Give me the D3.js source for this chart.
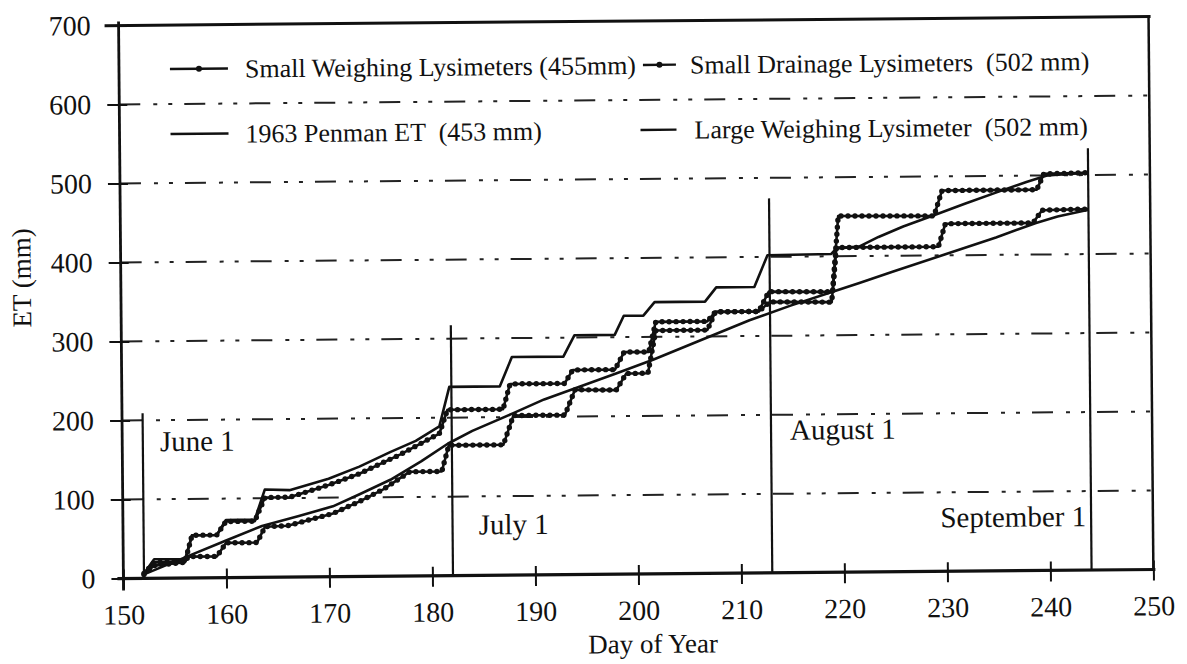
<!DOCTYPE html>
<html>
<head>
<meta charset="utf-8">
<script src="https://cdn.jsdelivr.net/npm/d3@7"></script>
<style>
  body { margin: 0; background: #fff; }
  #chart { width: 1187px; height: 664px; }
  svg { font-family: "Liberation Serif", "Times New Roman", serif; }
</style>
</head>
<body>
<div id="chart"></div>
<script>
//data
const xTicks = [150, 160, 170, 180, 190, 200, 210, 220, 230, 240, 250];
const yTicks = [0, 100, 200, 300, 400, 500, 600, 700];
const gridValues = [100, 200, 300, 400, 500, 600];

const seriesNames = [
  "Small Weighing Lysimeters (455mm)",
  "Small Drainage Lysimeters  (502 mm)",
  "1963 Penman ET  (453 mm)",
  "Large Weighing Lysimeter  (502 mm)"
];

// [day of year, cumulative ET mm]
const smallWeighing = [
  [152, 5], [153, 16], [156, 20], [156.3, 27], [159.1, 27], [160, 44], [163, 44],
  [163.8, 64], [166, 65], [170.4, 80], [173, 95], [175.3, 110], [177.9, 132], [181, 132],
  [181.7, 165], [187, 165], [188, 202], [193, 202], [194, 234], [198, 233], [199, 254],
  [201.1, 254], [201.9, 308], [206.9, 308], [207.7, 331], [211.9, 331], [213, 343],
  [219, 342], [219.5, 411], [229.4, 411], [230.1, 440], [238.6, 440], [239.5, 456], [244, 457]
];

const smallDrainage = [
  [152, 6], [153, 20], [156, 21], [156.7, 54], [159.1, 54], [160, 71], [162.8, 71],
  [163.8, 101], [166.2, 101], [170, 116], [173, 130], [177, 154], [180.8, 180],
  [181.6, 210], [187, 210], [187.7, 242], [193, 242], [193.8, 259], [197.9, 259],
  [198.8, 281], [201.2, 281], [201.9, 319], [206.9, 319], [207.7, 331], [211.9, 331],
  [212.9, 356], [219.1, 355], [219.7, 451], [229, 450], [229.8, 482], [239, 482],
  [239.7, 502], [244, 503]
];

const penman = [
  [152, 5], [156, 26], [160, 47], [163.5, 65], [167, 77], [170.4, 89], [173, 104],
  [176, 122], [179, 145], [181.6, 167], [184, 183], [188, 205], [191, 222], [194.5, 238],
  [198, 254], [201.6, 271], [206, 294], [211, 320], [215, 338], [218.8, 354],
  [221.7, 366], [225, 380], [230, 401], [235, 422], [238.9, 440], [241, 448], [244, 456]
];

const largeWeighing = [
  [152, 6], [153, 24], [156, 24], [156.7, 54], [159.1, 54], [160, 73], [162.8, 73],
  [163.8, 111], [166.2, 110], [170, 124], [173, 139], [176, 157], [178.5, 171],
  [180.8, 189], [181.8, 239], [186.7, 239], [187.9, 276], [192.9, 276], [194, 303],
  [197.9, 303], [198.8, 327], [200.7, 327], [201.8, 344], [206.7, 344], [207.8, 362],
  [211.5, 362], [212.8, 402], [219, 403], [219.5, 410], [221.7, 412], [223.6, 424],
  [226, 437], [228.8, 450], [232, 465], [235.3, 480], [238, 492], [240, 500], [244, 503]
];

const monthNames = ["June 1", "July 1", "August 1", "September 1"];
const monthDays = [152, 182, 213, 244];
const monthTops = [209, 317, 474, 534];

drawChart("#chart");

function drawChart(containerSelector) {
  //size
  const width = 1187, height = 664;
  const margin = { top: 21, right: 36, bottom: 90, left: 121 };
  const innerWidth = width - margin.left - margin.right;
  const innerHeight = height - margin.top - margin.bottom;
  const ink = "#111";

  //scale
  const xScale = d3.scaleLinear().domain([150, 250]).range([0, innerWidth]);
  const yScale = d3.scaleLinear().domain([0, 700]).range([innerHeight, 0]);

  const series = [
    { name: seriesNames[0], values: smallWeighing, dotted: true },
    { name: seriesNames[1], values: smallDrainage, dotted: true },
    { name: seriesNames[2], values: penman, dotted: false },
    { name: seriesNames[3], values: largeWeighing, dotted: false }
  ];

  //create element
  const svg = d3.select(containerSelector).append("svg")
    .attr("width", width)
    .attr("height", height);
  svg.append("rect").attr("width", width).attr("height", height).attr("fill", "#fff");

  // the scanned page sits slightly rotated
  const page = svg.append("g").attr("transform", "rotate(-0.5, 637, 300)");
  const g = page.append("g").attr("transform", `translate(${margin.left},${margin.top})`);

  //grid
  g.append("g").selectAll("line")
    .data(gridValues)
    .join("line")
    .attr("x1", 0)
    .attr("x2", innerWidth)
    .attr("y1", (d) => yScale(d))
    .attr("y2", (d) => yScale(d))
    .attr("stroke", "#222")
    .attr("stroke-width", 2)
    .attr("stroke-dasharray", "21 13 4 11 4 12");

  //frame
  g.append("line")
    .attr("x1", -14).attr("x2", innerWidth + 2)
    .attr("y1", 0).attr("y2", 0)
    .attr("stroke", ink).attr("stroke-width", 3);
  g.append("line")
    .attr("x1", innerWidth).attr("x2", innerWidth)
    .attr("y1", 0).attr("y2", innerHeight)
    .attr("stroke", ink).attr("stroke-width", 2.5);

  //month markers
  const months = monthNames.map((name, i) => ({ name, day: monthDays[i], top: monthTops[i] }));
  g.append("g").selectAll("line")
    .data(months)
    .join("line")
    .attr("x1", (d) => xScale(d.day))
    .attr("x2", (d) => xScale(d.day))
    .attr("y1", innerHeight)
    .attr("y2", (d) => yScale(d.top))
    .attr("stroke", ink)
    .attr("stroke-width", 2.2);

  const labelOffsets = [
    { dx: 17, y: 426, anchor: "start" },
    { dx: 26, y: 512, anchor: "start" },
    { dx: 19, y: 420, anchor: "start" },
    { dx: -5, y: 509, anchor: "end" }
  ];
  g.append("g").selectAll("text")
    .data(months)
    .join("text")
    .attr("x", (d, i) => xScale(d.day) + labelOffsets[i].dx)
    .attr("y", (d, i) => labelOffsets[i].y)
    .attr("text-anchor", (d, i) => labelOffsets[i].anchor)
    .attr("font-size", 29)
    .attr("fill", ink)
    .text((d) => d.name);

  //mark
  const line = d3.line()
    .x((d) => xScale(d[0]))
    .y((d) => yScale(d[1]));

  const marks = g.append("g").attr("class", "mark");
  marks.selectAll("path.series")
    .data(series)
    .join("path")
    .attr("class", "series")
    .attr("d", (d) => line(d.values))
    .attr("fill", "none")
    .attr("stroke", ink)
    .attr("stroke-width", 2.6)
    .attr("stroke-linejoin", "round");

  marks.selectAll("path.beads")
    .data(series.filter((d) => d.dotted))
    .join("path")
    .attr("class", "beads")
    .attr("d", (d) => line(d.values))
    .attr("fill", "none")
    .attr("stroke", ink)
    .attr("stroke-width", 5.4)
    .attr("stroke-linecap", "round")
    .attr("stroke-dasharray", "0 7");

  //x-axis
  const xAxis = g.append("g")
    .attr("class", "axis x-axis")
    .attr("transform", `translate(0,${innerHeight})`)
    .call(d3.axisBottom(xScale).tickValues(xTicks).tickSize(0).tickPadding(26).tickFormat(d3.format("d")));
  xAxis.select(".domain").remove();
  xAxis.append("line")
    .attr("x1", -6).attr("x2", innerWidth + 2)
    .attr("stroke", ink).attr("stroke-width", 3.2);
  xAxis.selectAll(".tick").append("line")
    .attr("y1", -9).attr("y2", 11)
    .attr("stroke", ink).attr("stroke-width", 2);
  xAxis.selectAll(".tick text")
    .attr("font-size", 28)
    .attr("font-family", "Liberation Serif")
    .attr("fill", ink);

  //y-axis
  const yAxis = g.append("g")
    .attr("class", "axis y-axis")
    .call(d3.axisLeft(yScale).tickValues(yTicks).tickSize(0).tickPadding(28));
  yAxis.select(".domain").remove();
  yAxis.append("line")
    .attr("y1", -4).attr("y2", innerHeight + 12)
    .attr("stroke", ink).attr("stroke-width", 2.8);
  yAxis.selectAll(".tick").append("line")
    .attr("x1", -12).attr("x2", 8)
    .attr("stroke", ink).attr("stroke-width", 2);
  yAxis.selectAll(".tick text")
    .attr("font-size", 28)
    .attr("font-family", "Liberation Serif")
    .attr("fill", ink);

  //titles
  g.append("text")
    .attr("x", innerWidth / 2 + 14)
    .attr("y", innerHeight + 79)
    .attr("text-anchor", "middle")
    .attr("font-size", 27)
    .attr("fill", ink)
    .text("Day of Year");
  g.append("text")
    .attr("transform", `translate(${-90},${innerHeight / 2 - 25}) rotate(-90)`)
    .attr("text-anchor", "middle")
    .attr("font-size", 27)
    .attr("fill", ink)
    .text("ET (mm)");

  //legend
  const legendSpots = [
    { x1: 51, x2: 109, tx: 126, y: 46 },
    { x1: 524, x2: 557, tx: 571, y: 46 },
    { x1: 51, x2: 109, tx: 126, y: 111 },
    { x1: 521, x2: 557, tx: 575, y: 111 }
  ];
  const legend = g.append("g").attr("class", "legend")
    .selectAll("g")
    .data(series)
    .join("g");
  legend.append("line")
    .attr("x1", (d, i) => legendSpots[i].x1)
    .attr("x2", (d, i) => legendSpots[i].x2)
    .attr("y1", (d, i) => legendSpots[i].y - 2)
    .attr("y2", (d, i) => legendSpots[i].y - 2)
    .attr("stroke", ink)
    .attr("stroke-width", 2.4);
  legend.filter((d) => d.dotted).append("circle")
    .attr("cx", (d) => {
      const s = legendSpots[series.indexOf(d)];
      return (s.x1 + s.x2) / 2;
    })
    .attr("cy", (d) => legendSpots[series.indexOf(d)].y - 2)
    .attr("r", 3)
    .attr("fill", ink);
  legend.append("text")
    .attr("x", (d, i) => legendSpots[i].tx)
    .attr("y", (d, i) => legendSpots[i].y + 7)
    .attr("font-size", 26)
    .attr("fill", ink)
    .attr("xml:space", "preserve")
    .style("white-space", "pre")
    .text((d) => d.name);
}
</script>
</body>
</html>
